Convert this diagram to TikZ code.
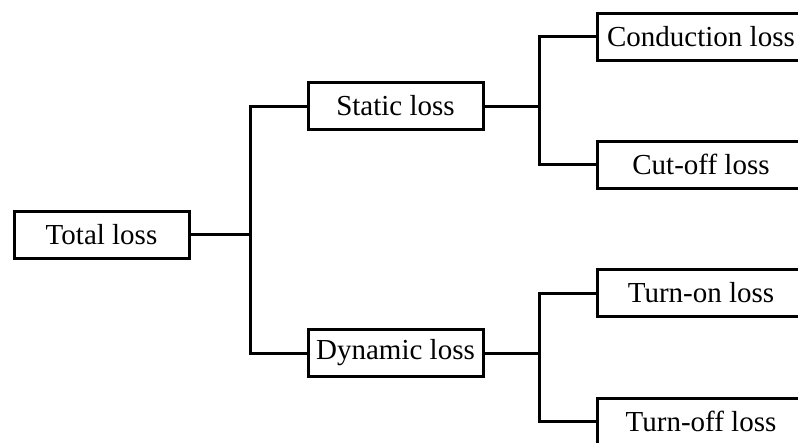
\documentclass[tikz,border=0pt]{standalone}
\usepackage{fontspec}
\setmainfont{Liberation Serif}
\begin{document}
\begin{tikzpicture}[x=1pt,y=-1pt,
  lossbox/.style={draw,line width=3pt,inner sep=0pt,minimum height=47pt,
    font=\fontsize{29}{34}\selectfont},
  midbox/.style={lossbox,minimum width=175pt},
  leafbox/.style={lossbox,minimum width=208pt},
  link/.style={line width=3pt}]
\useasboundingbox (0,0) rectangle (798,442);
\clip (0,0) rectangle (798,442);
% boxes
\node[midbox] (total) at (101.5,234.5) {Total loss};
\node[midbox] (static) at (395.5,106) {Static loss};
\node[midbox] (dynamic) at (395.5,353) {Dynamic loss};
\node[leafbox] (cond) at (701,36.5) {Conduction loss};
\node[leafbox] (cut) at (701,164.5) {Cut-off loss};
\node[leafbox] (ton) at (701,293) {Turn-on loss};
\node[leafbox] (toff) at (701,421.5) {Turn-off loss};
% junction points of the forks
\coordinate (j0) at (250,234.5);
\coordinate (j1) at (539,106);
\coordinate (j2) at (539,353);
% connectors
\draw[link] (total.east) -- (j0);
\draw[link] (static.west) -| (j0) |- (dynamic.west);
\draw[link] (static.east) -- (j1);
\draw[link] (cond.west) -| (j1) |- (cut.west);
\draw[link] (dynamic.east) -- (j2);
\draw[link] (ton.west) -| (j2) |- (toff.west);
\end{tikzpicture}
\end{document}
